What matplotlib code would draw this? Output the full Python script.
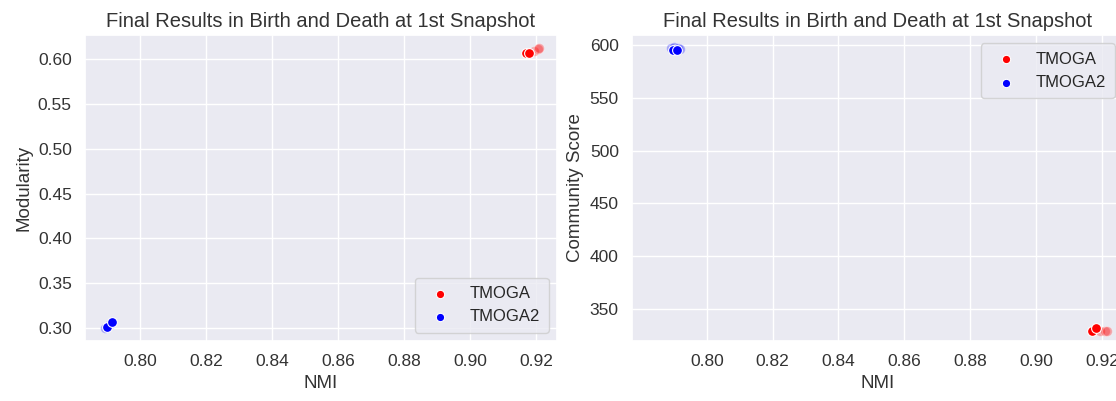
import matplotlib
matplotlib.use("Agg")
import matplotlib.pyplot as plt
import seaborn as sns

sns.set_theme(style="darkgrid")
plt.rcParams['font.family'] = ['Liberation Sans', 'DejaVu Sans']

title = "Final Results in Birth and Death at 1st Snapshot"
series = ["TMOGA", "TMOGA2"]
colors = {"TMOGA": "red", "TMOGA2": "blue"}

# Left: NMI vs Modularity
tmoga_nmi_1 = [0.9170, 0.9180]
tmoga_mod_1 = [0.6065, 0.6065]
tmoga_nmi_1f = [0.9195, 0.9205, 0.9210]
tmoga_mod_1f = [0.6090, 0.6110, 0.6120]
tmoga2_nmi_1 = [0.7900, 0.7915]
tmoga2_mod_1 = [0.3010, 0.3070]
tmoga2_nmi_1f = [0.7895, 0.7910]
tmoga2_mod_1f = [0.3000, 0.3040]

# Right: NMI vs Community Score
tmoga_nmi_2 = [0.9170, 0.9182]
tmoga_cs_2 = [329.5, 332.0]
tmoga_nmi_2f = [0.9175, 0.9195, 0.9208, 0.9215]
tmoga_cs_2f = [330.5, 329.0, 329.5, 329.0]
tmoga2_nmi_2 = [0.7899, 0.7911]
tmoga2_cs_2 = [595.0, 595.0]
tmoga2_nmi_2f = [0.7890, 0.7902, 0.7914, 0.7920]
tmoga2_cs_2f = [597.5, 598.0, 597.5, 596.5]

fig = plt.figure(figsize=(11.16, 4.01), dpi=100)
W, H = 1116, 401
ax1 = fig.add_axes([85 / W, 1 - 341 / H, 472 / W, 306 / H])
ax2 = fig.add_axes([632 / W, 1 - 341 / H, 491 / W, 306 / H])

def draw(ax, xs, ys, xf, yf):
    for name, x, y, x2, y2 in zip(series, xs, ys, xf, yf):
        ax.scatter(x2, y2, s=50, color=colors[name], alpha=0.3, edgecolor="white", linewidth=0.8, zorder=3)
        ax.scatter(x, y, s=50, color=colors[name], edgecolor="white", linewidth=0.8, label=name, zorder=4)

draw(ax1, [tmoga_nmi_1, tmoga2_nmi_1], [tmoga_mod_1, tmoga2_mod_1],
     [tmoga_nmi_1f, tmoga2_nmi_1f], [tmoga_mod_1f, tmoga2_mod_1f])
draw(ax2, [tmoga_nmi_2, tmoga2_nmi_2], [tmoga_cs_2, tmoga2_cs_2],
     [tmoga_nmi_2f, tmoga2_nmi_2f], [tmoga_cs_2f, tmoga2_cs_2f])

ax1.set_xlim(0.7833, 0.9264)
ax1.set_ylim(0.2855, 0.6268)
ax1.set_xticks([0.80, 0.82, 0.84, 0.86, 0.88, 0.90, 0.92])
ax1.set_yticks([0.30, 0.35, 0.40, 0.45, 0.50, 0.55, 0.60])
ax1.set_xticklabels([f"{v:.2f}" for v in ax1.get_xticks()])
ax1.set_yticklabels([f"{v:.2f}" for v in ax1.get_yticks()])
ax1.set_xlabel("NMI", fontsize=13.5)
ax1.set_ylabel("Modularity", fontsize=13.5)
ax1.set_title(title, fontsize=14.5, color="#333333")
ax1.legend(loc="lower right", fontsize=12, markerscale=0.85, borderpad=0.5)

ax2.set_xlim(0.7773, 0.9264)
ax2.set_ylim(319.7, 609.5)
ax2.set_xticks([0.80, 0.82, 0.84, 0.86, 0.88, 0.90, 0.92])
ax2.set_yticks([350, 400, 450, 500, 550, 600])
ax2.set_xticklabels([f"{v:.2f}" for v in ax2.get_xticks()])
ax2.set_xlabel("NMI", fontsize=13.5)
ax2.set_ylabel("Community Score", fontsize=13.5)
ax2.set_title(title, fontsize=14.5, color="#333333")
ax2.legend(loc="upper right", fontsize=12, markerscale=0.85, borderpad=0.5)

for ax in (ax1, ax2):
    ax.tick_params(labelsize=12.5, labelcolor="#333333")
    ax.xaxis.label.set_color("#333333")
    ax.yaxis.label.set_color("#333333")

fig.savefig("out.png", dpi=100)
